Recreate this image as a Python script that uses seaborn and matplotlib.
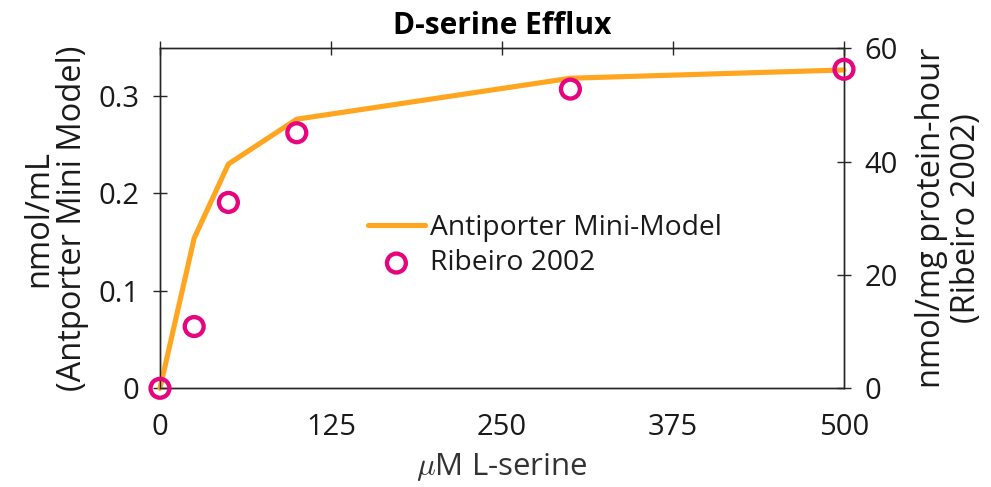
import numpy as np
import pandas as pd
import matplotlib
matplotlib.use("Agg")
import matplotlib.pyplot as plt
import seaborn as sns

# L-serine concentrations (uM)
serine_um = [0, 25, 50, 100, 300, 500]
# Antiporter mini-model D-serine efflux (nmol/mL)
model_efflux = [0.0, 0.154, 0.230, 0.276, 0.318, 0.3265]
# Ribeiro 2002 measured efflux (nmol/mg protein-hour)
ribeiro_efflux = [0.0, 10.9, 32.8, 45.1, 52.8, 56.3]

x_ticks = [0, 125, 250, 375, 500]
left_ticks = [0, 0.1, 0.2, 0.3]
left_tick_labels = ["0", "0.1", "0.2", "0.3"]
right_ticks = [0, 20, 40, 60]

ORANGE = "#FFA51F"
MAGENTA = "#E6057F"
INK = "#262626"
TEXT = "#1a1a1a"

sns.set_theme(style="white")
plt.rcParams["font.family"] = ["Open Sans", "DejaVu Sans"]
plt.rcParams["mathtext.fontset"] = "cm"

df_model = pd.DataFrame({"x": serine_um, "y": model_efflux})
df_data = pd.DataFrame({"x": serine_um, "y": ribeiro_efflux})

fig = plt.figure(figsize=(9.91, 4.87), dpi=100)
ax = fig.add_axes([160 / 991, 1 - 388.3 / 487, 684 / 991, 340 / 487])
ax2 = ax.twinx()

sns.lineplot(data=df_model, x="x", y="y", ax=ax, color=ORANGE, lw=3.7,
             label="Antiporter Mini-Model", legend=False, clip_on=False, zorder=3)
sns.scatterplot(data=df_data, x="x", y="y", ax=ax2, marker="o", s=185,
                facecolor="none", edgecolor=MAGENTA, linewidth=3.1,
                label="Ribeiro 2002", legend=False, clip_on=False, zorder=4)

ax.set_xlim(0, 500)
ax.set_ylim(0, 0.3487)
ax2.set_ylim(0, 60)
ax.set_xticks(x_ticks)
ax.set_xticklabels([str(t) for t in x_ticks])
ax.set_yticks(left_ticks)
ax.set_yticklabels(left_tick_labels)
ax2.set_yticks(right_ticks)
ax2.set_yticklabels([str(t) for t in right_ticks])

for a in (ax, ax2):
    for s in a.spines.values():
        s.set_color(INK)
        s.set_linewidth(1.0)
        s.set_visible(True)
    a.tick_params(axis="both", direction="inout", length=10, width=1.0,
                  colors=INK, labelsize=21, labelcolor=TEXT)

ax.tick_params(axis="x", top=True, pad=13)
ax.tick_params(axis="y", pad=10)
ax2.tick_params(axis="y", pad=10)
ax2.set_zorder(ax.get_zorder() + 1)
ax2.patch.set_visible(False)

ax.set_xlabel(r"$\mu$M L-serine", fontsize=22.5, color="#333333", labelpad=6)
ax.set_ylabel("nmol/mL\n(Antporter Mini Model)", fontsize=23.5, color=TEXT,
              linespacing=1.02, va="center")
ax.yaxis.set_label_coords(-0.1528, 0.5)
ax2.set_ylabel("nmol/mg protein-hour\n(Ribeiro 2002)", fontsize=23.5, color=TEXT,
               linespacing=1.08, va="center", rotation=90)
ax2.yaxis.set_label_coords(1.153, 0.5)
ax.set_title("D-serine Efflux", fontsize=21.5, fontweight="bold", color="black", pad=10)

h1, l1 = ax.get_legend_handles_labels()
h2, l2 = ax2.get_legend_handles_labels()
leg = ax2.legend(h1 + h2, l1 + l2, loc="center left", bbox_to_anchor=(0.304, 0.42),
                 frameon=False, fontsize=20.3, handlelength=2.02, handletextpad=0.18,
                 labelspacing=0.28, borderpad=0, borderaxespad=0)
for t in leg.get_texts():
    t.set_color(TEXT)

fig.savefig("out.png", dpi=100)
